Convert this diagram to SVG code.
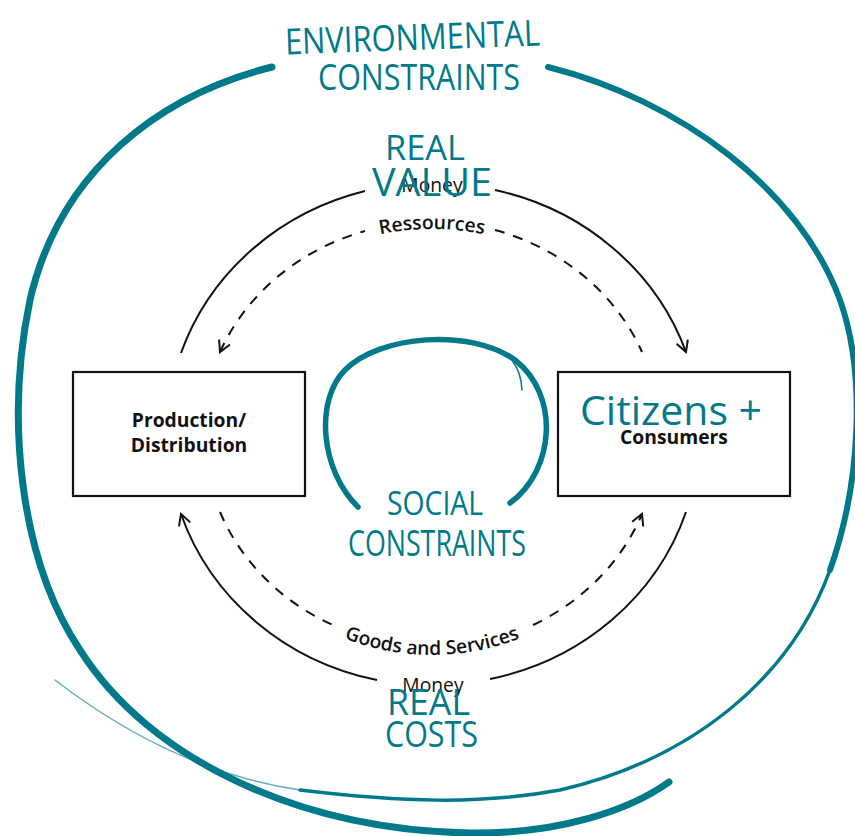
<svg xmlns="http://www.w3.org/2000/svg" width="855" height="836" viewBox="0 0 855 836">
<style>
.box{fill:#fff;stroke:#111;stroke-width:2.2}
.lbl{font-family:"Open Sans","Noto Sans",sans-serif;font-weight:700;font-size:19.3px;fill:#111;text-anchor:middle}
.flow{font-family:"Open Sans","Noto Sans",sans-serif;font-size:19.3px;fill:#111;text-anchor:middle}
.solid{fill:none;stroke:#111;stroke-width:2}
.dash{fill:none;stroke:#111;stroke-width:2;stroke-dasharray:10 9}
.teal{fill:none;stroke:#007A8A;stroke-linecap:round}
.hand{font-family:"Open Sans","Noto Sans",sans-serif;font-weight:400;fill:#007A8A}
</style>
<defs>
<marker id="arr" markerUnits="userSpaceOnUse" markerWidth="16" markerHeight="16" refX="12" refY="7" orient="auto-start-reverse" viewBox="0 0 16 14">
<path d="M1,1 L12,7 L1,13" fill="none" stroke="#111" stroke-width="2"/>
</marker>
<path id="topText" d="M202,434 A230,205 0 0 1 662,434"/>
<path id="botText" d="M202,434 A230,221 0 0 0 662,434"/>
</defs>

<g id="environment">
<path class="teal" stroke-width="7" d="M272,67 C160,95 60,170 30,300 C5,420 20,560 80,650 C150,760 300,830 470,833 C560,834 630,810 669,782"/>
<path class="teal" stroke-width="6" d="M548,67 C680,100 800,190 840,300 C865,370 862,480 830,570"/>
<path class="teal" stroke-width="3.5" d="M830,570 C790,680 690,760 560,790 C480,805 400,802 300,790"/>
<path class="teal" stroke-width="1.5" opacity="0.6" d="M300,790 C200,775 120,730 55,680"/>
<text class="hand" font-size="36" x="285" y="50" textLength="255" lengthAdjust="spacingAndGlyphs" transform="rotate(-2 412 40)">ENVIRONMENTAL</text>
<text class="hand" font-size="36" x="318" y="90" textLength="202" lengthAdjust="spacingAndGlyphs">CONSTRAINTS</text>
</g>

<g id="social">
<path class="teal" stroke-width="5.5" d="M358,507 C320,470 315,400 345,370 C380,335 470,328 515,360 C560,395 555,470 510,503"/>
<path class="teal" stroke-width="1.5" d="M513,362 Q521,372 522,390"/>
<text class="hand" font-size="32" x="387" y="515" textLength="96" lengthAdjust="spacingAndGlyphs">SOCIAL</text>
<text class="hand" font-size="36" x="348" y="556" textLength="178" lengthAdjust="spacingAndGlyphs">CONSTRAINTS</text>
</g>

<g id="production">
<rect class="box" x="73" y="372" width="232" height="124"/>
<text class="lbl" x="189" y="427">Production/</text>
<text class="lbl" x="189" y="452">Distribution</text>
</g>

<g id="consumers">
<rect class="box" x="558" y="372" width="232" height="124"/>
<text class="hand" font-size="40" x="580" y="425" textLength="182" lengthAdjust="spacingAndGlyphs">Citizens +</text>
<text class="lbl" x="674" y="444">Consumers</text>
</g>

<g id="connectors">
<path class="solid" d="M181,353 A265,251 0 0 1 365,191"/>
<path class="solid" d="M495,190 A265,251 0 0 1 686,352" marker-end="url(#arr)"/>
<path class="solid" d="M377,680 A265,251 0 0 1 181,514" marker-end="url(#arr)"/>
<path class="solid" d="M686,512 A265,251 0 0 1 490,679"/>
<path class="dash" d="M220,352 A230,212 0 0 1 365,231" marker-start="url(#arr)"/>
<path class="dash" d="M495,230 A230,212 0 0 1 642,352"/>
<path class="dash" d="M220,512 A230,212 0 0 0 335,626"/>
<path class="dash" d="M533,625 A230,212 0 0 0 642,514" marker-end="url(#arr)"/>
<text class="flow" x="432" y="192" font-weight="500">Money</text>
<text class="flow" font-weight="600"><textPath href="#topText" startOffset="50%">Ressources</textPath></text>
<text class="flow" font-weight="600"><textPath href="#botText" startOffset="50%">Goods and Services</textPath></text>
<text class="flow" x="433" y="692" font-weight="500">Money</text>
</g>

<g id="value-labels">
<text class="hand" font-size="34" x="385" y="160" textLength="80" lengthAdjust="spacingAndGlyphs">REAL</text>
<text class="hand" font-size="38" x="372" y="196" textLength="120" lengthAdjust="spacingAndGlyphs">VALUE</text>
<text class="hand" font-size="36" x="387" y="715" textLength="83" lengthAdjust="spacingAndGlyphs">REAL</text>
<text class="hand" font-size="36" x="385" y="747" textLength="93" lengthAdjust="spacingAndGlyphs">COSTS</text>
</g>
</svg>
